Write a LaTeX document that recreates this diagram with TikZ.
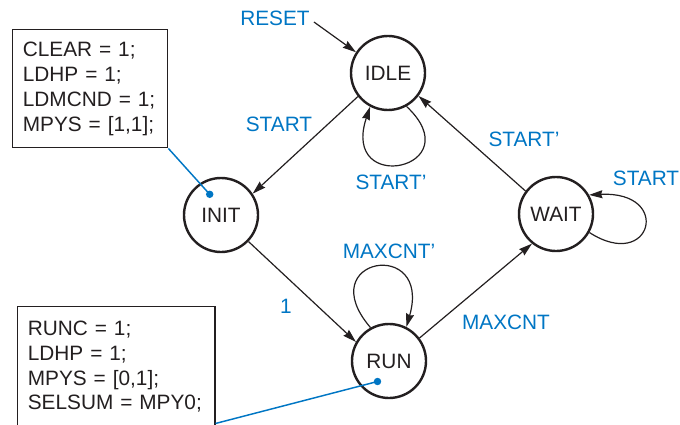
\documentclass[tikz,border=0pt]{standalone}
\usepackage{fontspec}
\setmainfont{Liberation Sans}
\usetikzlibrary{arrows.meta,calc}
\definecolor{lblue}{RGB}{0,118,196}
\definecolor{ink}{RGB}{35,31,32}
\begin{document}
\begin{tikzpicture}[x=0.75pt,y=-0.75pt,
  state/.style={circle,draw=ink,line width=1.8pt,minimum size=55.5pt,inner sep=0pt,text=ink,font=\fontsize{15.6}{18.6}\selectfont},
  lab/.style={text=lblue,font=\fontsize{15.6}{18.6}\selectfont,inner sep=0pt},
  trans/.style={draw=ink,line width=0.9pt,-{Stealth[length=10pt,width=6pt,inset=1pt]}},
  actbox/.style={draw=ink,line width=1.1pt,anchor=north west,align=left,inner xsep=7.6pt,inner ysep=0pt,text=ink,font=\fontsize{15.6}{18.6}\selectfont},
  link/.style={draw=lblue,line width=1.1pt},
  dotmark/.style={fill=lblue}
]
\useasboundingbox (0,0) rectangle (680,424);
\clip (0,0) rectangle (680,424);

% states
\node[state] (IDLE) at (388,73) {IDLE};
\node[state] (INIT) at (221,215) {INIT};
\node[state] (WAIT) at (556,214) {WAIT};
\node[state] (RUN)  at (389,361) {RUN};

% action boxes
\node[actbox,text width=101pt,minimum height=88.5pt] (boxA) at (12,29)
  {CLEAR = 1;\\LDHP = 1;\\LDMCND = 1;\\MPYS = [1,1];};
\node[actbox,text width=132.6pt,minimum height=90pt] (boxB) at (17,306)
  {RUNC = 1;\\LDHP = 1;\\MPYS = [0,1];\\SELSUM = MPY0;};

% labels
\node[lab] (RESET) at (275,18) {RESET};
\node[lab] (lStart) at (279,124) {START};
\node[lab] (lStartIdle) at (391,182) {START’};
\node[lab] (lStartW) at (524,139) {START’};
\node[lab] (lStartLoop) at (646,178) {START};
\node[lab] (lMaxP) at (389,251) {MAXCNT’};
\node[lab] (lOne) at (286,306) {1};
\node[lab] (lMax) at (506,322) {MAXCNT};

% transitions
\draw[trans] ([xshift=3pt,yshift=-3pt]RESET.east) -- (IDLE.147);
\draw[trans] (IDLE.218) -- (INIT.34);
\draw[trans] (WAIT.143) -- (IDLE.-37);
\draw[trans] (INIT.-44) -- (RUN.150);
\draw[trans] (RUN.37) -- (WAIT.-129);
\draw[trans] (IDLE.-61) .. controls +(66,62) and +(-30,90) .. (IDLE.-118);
\draw[trans] (WAIT.-29) .. controls +(62,40) and +(84,-4) .. (WAIT.30);
\draw[trans] (RUN.119) .. controls +(-60,-70) and +(26,-90) .. (RUN.63);

% action links
\coordinate (dI) at (209.7,194.3);
\coordinate (dR) at (377.5,381.5);
\draw[link] (boxA.south east) -- (dI);
\draw[link] ([yshift=3pt]boxB.south east) -- (dR);
\fill[dotmark] (dI) circle (2.8pt);
\fill[dotmark] (dR) circle (2.8pt);
\end{tikzpicture}
\end{document}
